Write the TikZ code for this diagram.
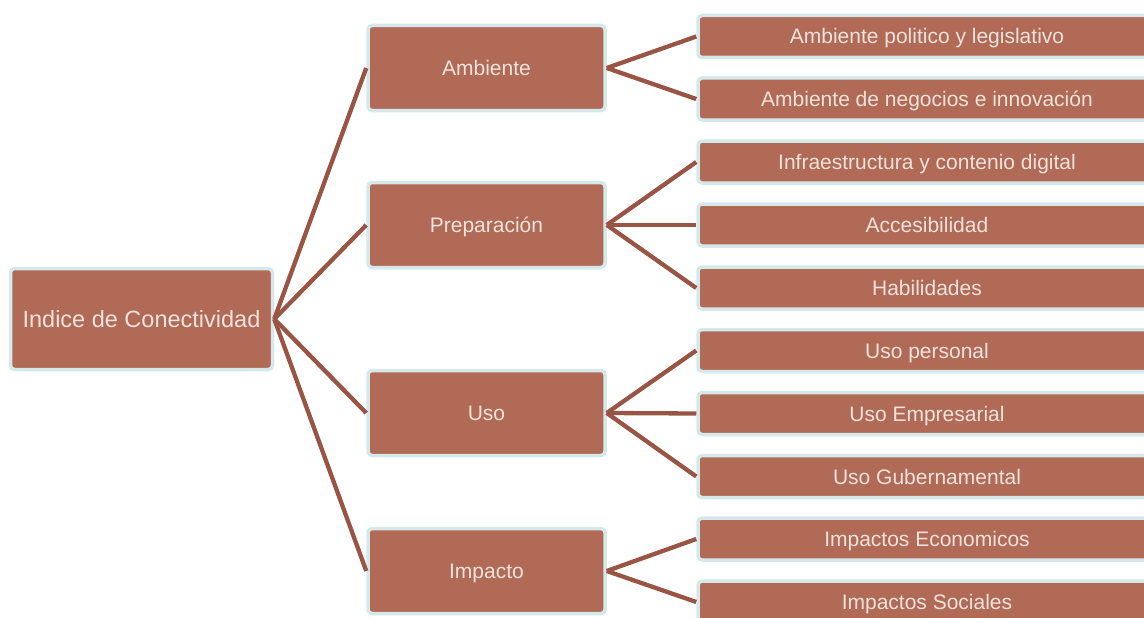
\documentclass[tikz,border=0pt]{standalone}
\usepackage{fontspec}
\setmainfont{Liberation Sans}
\definecolor{boxfill}{HTML}{B06A55}
\definecolor{halo}{HTML}{D5E8EC}
\definecolor{wire}{HTML}{9A5444}
\definecolor{txt}{HTML}{F0E2DC}
\begin{document}
\begin{tikzpicture}[x=1pt,y=-1pt,
  box/.style={rectangle, fill=boxfill, draw=halo, line width=3.5pt, rounded corners=4pt, text=txt, inner sep=0pt, text height=15pt, text depth=0pt, font=\fontsize{21}{24}\selectfont},
  rootbox/.style={box, minimum width=262pt, minimum height=101pt, text height=17pt, font=\fontsize{23.5}{27}\selectfont},
  midbox/.style={box, minimum width=237pt, minimum height=85pt},
  leafbox/.style={box, minimum width=458pt, minimum height=42pt},
  wireline/.style={draw=wire, line width=4.3pt}]
\useasboundingbox (0,0) rectangle (1144,618);
\clip (0,0) rectangle (1144,618);
\node[rootbox] (root) at (141.5,319) {Indice de Conectividad};
\node[midbox] (amb) at (486.5,68) {Ambiente};
\node[midbox] (pre) at (486.5,225) {Preparación};
\node[midbox] (uso) at (486.5,413) {Uso};
\node[midbox] (imp) at (486.5,571) {Impacto};
\node[leafbox] (l1) at (927,36.5) {Ambiente politico y legislativo};
\node[leafbox] (l2) at (927,99) {Ambiente de negocios e innovación};
\node[leafbox] (l3) at (927,162) {Infraestructura y contenio digital};
\node[leafbox] (l4) at (927,225) {Accesibilidad};
\node[leafbox] (l5) at (927,288) {Habilidades};
\node[leafbox] (l6) at (927,350.5) {Uso personal};
\node[leafbox] (l7) at (927,413.5) {Uso Empresarial};
\node[leafbox] (l8) at (927,476.5) {Uso Gubernamental};
\node[leafbox] (l9) at (927,539) {Impactos Economicos};
\node[leafbox] (l10) at (927,602) {Impactos Sociales};
\foreach \m in {amb,pre,uso,imp}
  \draw[wireline] (root.east) -- (\m.west);
\foreach \m/\l in {amb/l1,amb/l2,pre/l3,pre/l4,pre/l5,uso/l6,uso/l7,uso/l8,imp/l9,imp/l10}
  \draw[wireline] (\m.east) -- (\l.west);
\end{tikzpicture}
\end{document}
